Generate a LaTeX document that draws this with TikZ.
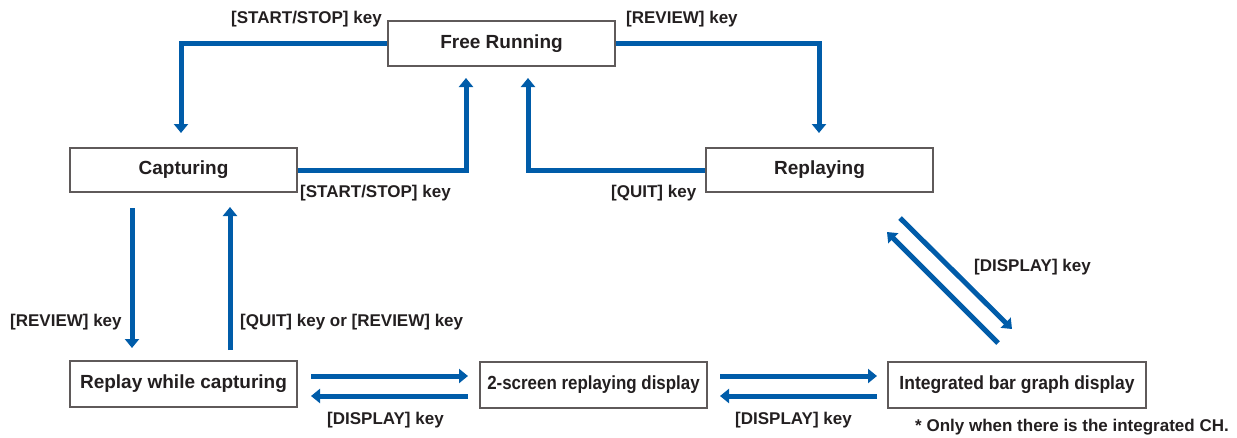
\documentclass[tikz,border=0pt]{standalone}
\usepackage{fontspec}
\setmainfont{Liberation Sans}
\usetikzlibrary{arrows.meta,calc}
\definecolor{flow}{RGB}{0,92,169}
\definecolor{ink}{RGB}{35,31,32}
\definecolor{frame}{RGB}{95,90,90}
\begin{document}
\begin{tikzpicture}[x=1pt,y=-1pt,
  state/.style={draw=frame,line width=1.3pt,fill=white,minimum width=227pt,minimum height=45pt,inner sep=0pt,font=\fontsize{19}{22}\selectfont\bfseries,text=ink},
  narrow/.style={font=\fontsize{19}{22}\selectfont\bfseries\addfontfeature{FakeStretch=#1}},
  lbl/.style={anchor=west,inner sep=0pt,font=\fontsize{17}{20}\selectfont\bfseries,text=ink},
  flowline/.style={draw=flow,line width=5pt},
  arr/.style={flowline,-{Triangle[width=14pt,length=9pt]}}]
\useasboundingbox (0,0) rectangle (1237,437);
% states
\node[state] (free) at (501.5,43.5) {Free Running};
\node[state,minimum height=44pt] (cap) at (183.5,170) {Capturing};
\node[state,minimum height=44pt] (rep) at (819.5,170) {Replaying};
\node[state,minimum height=46pt] (rwc) at (183.5,384) {Replay while capturing};
\node[state,narrow=0.89,minimum height=46pt] (two) at (593.5,385) {2-screen replaying display};
\node[state,narrow=0.92,minimum width=258pt,minimum height=46pt] (bar) at (1017,385) {Integrated bar graph display};
% connector end points
\coordinate (capIn) at (181,133);
\coordinate (freeInL) at (466,78);
\coordinate (freeInR) at (528,78);
\coordinate (repIn) at (819,133);
\coordinate (capOutA) at (132,208);
\coordinate (rwcInA) at (132,348);
\coordinate (rwcOutB) at (230,350);
\coordinate (capInB) at (230,207);
\coordinate (rwcR1) at (311,376);
\coordinate (twoL1) at (468,376);
\coordinate (twoL2) at (468,396);
\coordinate (rwcR2) at (311,396);
\coordinate (twoR1) at (720,376);
\coordinate (barL1) at (877,376);
\coordinate (barL2) at (877,396);
\coordinate (twoR2) at (720,396);
\coordinate (repD1) at (900,218);
\coordinate (barU1) at (1012,329);
\coordinate (barU2) at (998,343);
\coordinate (repD2) at (887,232);
% connectors
\draw[arr] (free.west) -| (capIn);
\draw[arr] (cap.east) -| (freeInL);
\draw[arr] (rep.west) -| (freeInR);
\draw[arr] (free.east) -| (repIn);
\draw[arr] (capOutA) -- (rwcInA);
\draw[arr] (rwcOutB) -- (capInB);
\draw[arr] (rwcR1) -- (twoL1);
\draw[arr] (twoL2) -- (rwcR2);
\draw[arr] (twoR1) -- (barL1);
\draw[arr] (barL2) -- (twoR2);
\draw[arr] (repD1) -- (barU1);
\draw[arr] (barU2) -- (repD2);
% labels
\node[lbl] (l1) at (231,19.5) {[START/STOP] key};
\node[lbl] (l2) at (626,19.5) {[REVIEW] key};
\node[lbl] (l3) at (300,193.5) {[START/STOP] key};
\node[lbl] (l4) at (611,193.5) {[QUIT] key};
\node[lbl] (l5) at (10,322.5) {[REVIEW] key};
\node[lbl] (l6) at (240,322.5) {[QUIT] key or [REVIEW] key};
\node[lbl] (l7) at (974,267.5) {[DISPLAY] key};
\node[lbl] (l8) at (327,420.5) {[DISPLAY] key};
\node[lbl] (l9) at (735,420.5) {[DISPLAY] key};
\node[lbl] (l10) at (915,427) {* Only when there is the integrated CH.};
\end{tikzpicture}
\end{document}
